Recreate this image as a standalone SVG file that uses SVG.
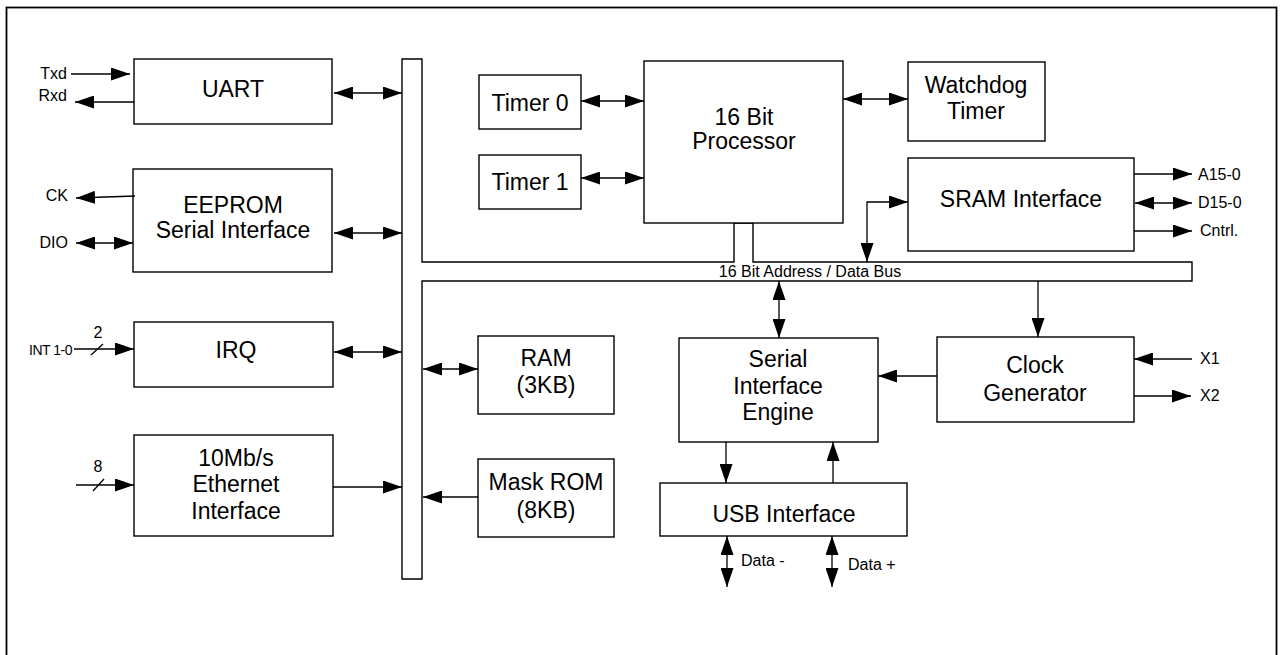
<svg xmlns="http://www.w3.org/2000/svg" width="1281" height="655" viewBox="0 0 1281 655">
<defs>
<style>
.box{fill:#fff;stroke:#000;stroke-width:1.4}
.ln{fill:none;stroke:#000;stroke-width:1.3}
.t{font-family:"Liberation Sans",Arial,sans-serif;font-size:23px;fill:#000;text-anchor:middle}
.s{font-family:"Liberation Sans",Arial,sans-serif;font-size:16px;fill:#000}
.e{text-anchor:end}
.m{text-anchor:middle}
</style>
<marker id="ah" markerUnits="userSpaceOnUse" markerWidth="20" markerHeight="13" refX="19" refY="6.5" orient="auto-start-reverse" viewBox="0 0 20 13">
<path d="M0,0 L19,6.5 L0,13 Z" fill="#000"/>
</marker>
</defs>
<rect x="6.5" y="7.5" width="1270" height="700" fill="none" stroke="#000" stroke-width="1.8"/>

<g id="bus">
<path class="box" d="M402,59 H422 V262 H734 V223 H753 V262 H1192 V281 H422 V579 H402 Z"/>
<text class="s m" x="810" y="277">16 Bit Address / Data Bus</text>
</g>

<g id="uart"><rect class="box" x="134" y="59" width="198" height="65"/><text class="t" x="233" y="97">UART</text></g>
<g id="eeprom"><rect class="box" x="133" y="169" width="199" height="103"/><text class="t" x="233" y="213">EEPROM</text><text class="t" x="233" y="238">Serial Interface</text></g>
<g id="irq"><rect class="box" x="134" y="322" width="199" height="65"/><text class="t" x="236" y="358">IRQ</text></g>
<g id="ethernet"><rect class="box" x="134" y="435" width="199" height="101"/><text class="t" x="236" y="466">10Mb/s</text><text class="t" x="236" y="492">Ethernet</text><text class="t" x="236" y="519">Interface</text></g>
<g id="timer0"><rect class="box" x="479" y="75" width="102" height="54"/><text class="t" x="530" y="111">Timer 0</text></g>
<g id="timer1"><rect class="box" x="479" y="155" width="102" height="54"/><text class="t" x="530" y="190">Timer 1</text></g>
<g id="processor"><rect class="box" x="644" y="61" width="199" height="162"/><text class="t" x="744" y="125">16 Bit</text><text class="t" x="744" y="149">Processor</text></g>
<g id="watchdog"><rect class="box" x="908" y="62" width="137" height="79"/><text class="t" x="976" y="93">Watchdog</text><text class="t" x="976" y="119">Timer</text></g>
<g id="sram"><rect class="box" x="908" y="158" width="226" height="93"/><text class="t" x="1021" y="207">SRAM Interface</text></g>
<g id="ram"><rect class="box" x="478" y="336" width="136" height="78"/><text class="t" x="546" y="366">RAM</text><text class="t" x="546" y="393">(3KB)</text></g>
<g id="maskrom"><rect class="box" x="478" y="459" width="136" height="78"/><text class="t" x="546" y="490">Mask ROM</text><text class="t" x="546" y="518">(8KB)</text></g>
<g id="sie"><rect class="box" x="679" y="338" width="199" height="104"/><text class="t" x="778" y="367">Serial</text><text class="t" x="778" y="394">Interface</text><text class="t" x="778" y="420">Engine</text></g>
<g id="usb"><rect class="box" x="660" y="483" width="247" height="53"/><text class="t" x="784" y="522">USB Interface</text></g>
<g id="clock"><rect class="box" x="937" y="337" width="197" height="85"/><text class="t" x="1035" y="373">Clock</text><text class="t" x="1035" y="401">Generator</text></g>

<g id="connectors">
<path class="ln" d="M71,74 H130" marker-end="url(#ah)"/>
<path class="ln" d="M134,102 H75" marker-end="url(#ah)"/>
<path class="ln" d="M334,93 H402" marker-start="url(#ah)" marker-end="url(#ah)"/>
<path class="ln" d="M135,196 L76,198" marker-end="url(#ah)"/>
<path class="ln" d="M76,243 H133" marker-start="url(#ah)" marker-end="url(#ah)"/>
<path class="ln" d="M334,233 H402" marker-start="url(#ah)" marker-end="url(#ah)"/>
<path class="ln" d="M74,349 H134" marker-end="url(#ah)"/>
<path class="ln" d="M91,355 L103,344"/>
<path class="ln" d="M334,352 H402" marker-start="url(#ah)" marker-end="url(#ah)"/>
<path class="ln" d="M76,485 H134" marker-end="url(#ah)"/>
<path class="ln" d="M93,491 L104,479"/>
<path class="ln" d="M333,487 H402" marker-end="url(#ah)"/>
<path class="ln" d="M423,369 H478" marker-start="url(#ah)" marker-end="url(#ah)"/>
<path class="ln" d="M478,497 H423" marker-end="url(#ah)"/>
<path class="ln" d="M581,101 H644" marker-start="url(#ah)" marker-end="url(#ah)"/>
<path class="ln" d="M581,178 H644" marker-start="url(#ah)" marker-end="url(#ah)"/>
<path class="ln" d="M843,99 H908" marker-start="url(#ah)" marker-end="url(#ah)"/>
<path class="ln" d="M867,262 V202 H908" marker-start="url(#ah)" marker-end="url(#ah)"/>
<path class="ln" d="M1134,174 H1192" marker-end="url(#ah)"/>
<path class="ln" d="M1135,203 H1192" marker-start="url(#ah)" marker-end="url(#ah)"/>
<path class="ln" d="M1134,231 H1192" marker-end="url(#ah)"/>
<path class="ln" d="M779,281 V338" marker-start="url(#ah)" marker-end="url(#ah)"/>
<path class="ln" d="M1038,281 V337" marker-end="url(#ah)"/>
<path class="ln" d="M937,376 H878" marker-end="url(#ah)"/>
<path class="ln" d="M1192,359 H1134" marker-end="url(#ah)"/>
<path class="ln" d="M1134,396 H1191" marker-end="url(#ah)"/>
<path class="ln" d="M726,442 V483" marker-end="url(#ah)"/>
<path class="ln" d="M833,483 V442" marker-end="url(#ah)"/>
<path class="ln" d="M727,536 V587" marker-start="url(#ah)" marker-end="url(#ah)"/>
<path class="ln" d="M832,536 V587" marker-start="url(#ah)" marker-end="url(#ah)"/>
</g>

<g id="labels">
<text class="s e" x="67" y="79">Txd</text>
<text class="s e" x="67" y="101">Rxd</text>
<text class="s e" x="68" y="201">CK</text>
<text class="s e" x="68" y="248">DIO</text>
<text class="s e" x="72" y="355" style="font-size:14px;letter-spacing:-0.5px">INT 1-0</text>
<text class="s m" x="98" y="338">2</text>
<text class="s m" x="98" y="472">8</text>
<text class="s" x="1198" y="180">A15-0</text>
<text class="s" x="1198" y="208">D15-0</text>
<text class="s" x="1200" y="236">Cntrl.</text>
<text class="s" x="1200" y="364">X1</text>
<text class="s" x="1200" y="401">X2</text>
<text class="s" x="741" y="566">Data -</text>
<text class="s" x="848" y="570">Data +</text>
</g>
</svg>
